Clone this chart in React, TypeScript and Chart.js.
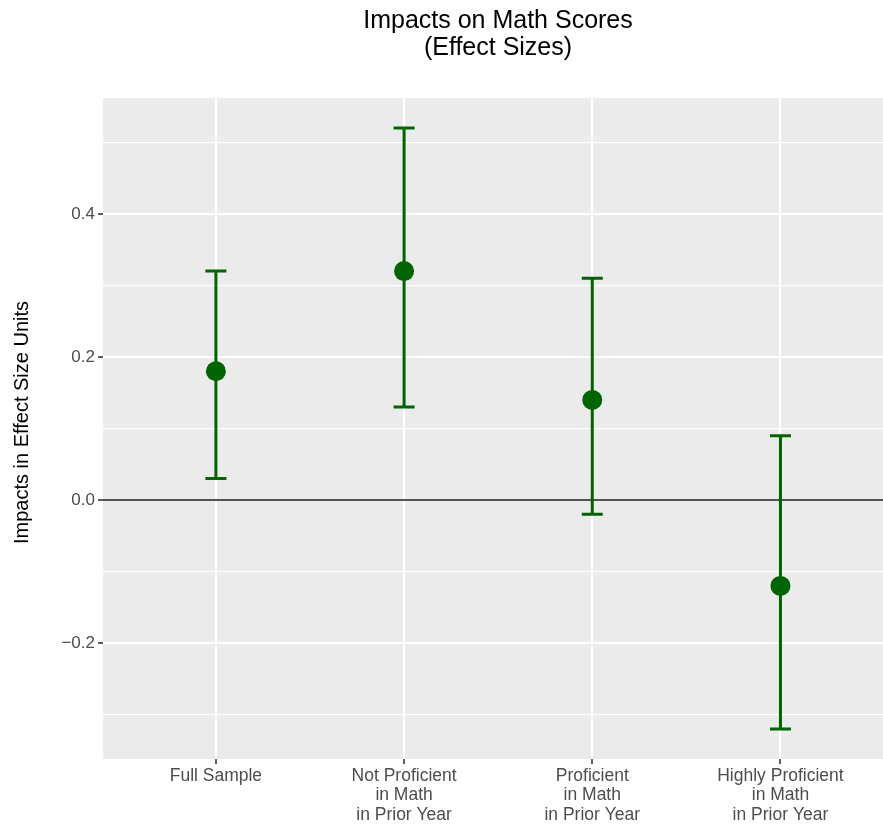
import React, { useEffect, useRef } from 'react';
import { Chart, registerables } from 'chart.js';

Chart.register(...registerables);

// ---- data ----
const categories: string[][] = [
  ['Full Sample'],
  ['Not Proficient', 'in Math', 'in Prior Year'],
  ['Proficient', 'in Math', 'in Prior Year'],
  ['Highly Proficient', 'in Math', 'in Prior Year'],
];
const categoryPositions = [1, 2, 3, 4];
const estimates = [0.18, 0.32, 0.14, -0.12];
const lowerBounds = [0.03, 0.13, -0.02, -0.32];
const upperBounds = [0.32, 0.52, 0.31, 0.09];
const yMajorTicks = [-0.2, 0.0, 0.2, 0.4];
const yMinorTicks = [-0.3, -0.1, 0.1, 0.3, 0.5];
const titleLines = ['Impacts on Math Scores', '(Effect Sizes)'];
const yAxisTitle = 'Impacts in Effect Size Units';

const FONT = "'Liberation Sans', Arial, sans-serif";
const GREEN = '#006400';

const isMajor = (v: number) => yMajorTicks.some((m) => Math.abs(m - v) < 1e-9);

export default function App() {
  const canvasRef = useRef<HTMLCanvasElement | null>(null);

  useEffect(() => {
    document.body.style.margin = '0';
    const canvas = canvasRef.current;
    if (!canvas) return;

    const decorPlugin = {
      id: 'decor',
      beforeDraw(chart: any) {
        const { ctx, chartArea } = chart;
        ctx.save();
        ctx.fillStyle = '#ffffff';
        ctx.fillRect(0, 0, chart.width, chart.height);
        ctx.fillStyle = '#EBEBEB';
        ctx.fillRect(chartArea.left, chartArea.top, chartArea.right - chartArea.left, chartArea.bottom - chartArea.top);
        ctx.restore();
      },
      beforeDatasetsDraw(chart: any) {
        const { ctx, chartArea, scales } = chart;
        const xs = scales.x;
        const ys = scales.y;
        ctx.save();
        // zero reference line
        const y0 = ys.getPixelForValue(0);
        ctx.strokeStyle = '#1a1a1a';
        ctx.lineWidth = 1.5;
        ctx.beginPath();
        ctx.moveTo(chartArea.left, y0);
        ctx.lineTo(chartArea.right, y0);
        ctx.stroke();
        // error bars
        ctx.strokeStyle = GREEN;
        ctx.lineWidth = 3;
        ctx.lineCap = 'butt';
        const half = 10.5;
        categoryPositions.forEach((pos, i) => {
          const x = xs.getPixelForValue(pos);
          const yl = ys.getPixelForValue(lowerBounds[i]);
          const yu = ys.getPixelForValue(upperBounds[i]);
          ctx.beginPath();
          ctx.moveTo(x, yl);
          ctx.lineTo(x, yu);
          ctx.moveTo(x - half, yl);
          ctx.lineTo(x + half, yl);
          ctx.moveTo(x - half, yu);
          ctx.lineTo(x + half, yu);
          ctx.stroke();
        });
        ctx.restore();
      },
      afterDraw(chart: any) {
        const { ctx, chartArea } = chart;
        ctx.save();
        ctx.fillStyle = '#000000';
        ctx.textAlign = 'center';
        ctx.textBaseline = 'alphabetic';
        ctx.font = `25px ${FONT}`;
        const cx = 498;
        ctx.fillText(titleLines[0], cx, 28);
        ctx.fillText(titleLines[1], cx, 55);
        // y-axis title
        ctx.font = `20px ${FONT}`;
        const cy = (chartArea.top + chartArea.bottom) / 2 - 6;
        ctx.translate(28, cy);
        ctx.rotate(-Math.PI / 2);
        ctx.fillText(yAxisTitle, 0, 0);
        ctx.restore();
      },
    };

    const chart = new Chart(canvas, {
      type: 'scatter',
      data: {
        datasets: [
          {
            data: categoryPositions.map((x, i) => ({ x, y: estimates[i] })),
            backgroundColor: GREEN,
            borderColor: GREEN,
            borderWidth: 0,
            pointRadius: 10,
            pointHoverRadius: 10,
          },
        ],
      },
      options: {
        responsive: false,
        animation: false,
        devicePixelRatio: 1,
        layout: { padding: { top: 98, left: 0, right: 0, bottom: 0 }, autoPadding: false },
        plugins: {
          legend: { display: false },
          title: { display: false },
          tooltip: { enabled: false },
        },
        scales: {
          x: {
            type: 'linear',
            min: 0.4,
            max: 4.545,
            border: { display: false },
            afterBuildTicks: (scale: any) => {
              scale.ticks = categoryPositions.map((v) => ({ value: v }));
            },
            afterFit: (scale: any) => {
              scale.height = 68;
            },
            grid: {
              color: '#ffffff',
              lineWidth: 2,
              drawTicks: true,
              tickLength: 5,
              tickColor: '#333333',
              tickWidth: 1.6,
            },
            ticks: {
              autoSkip: false,
              maxRotation: 0,
              padding: 3,
              color: '#4D4D4D',
              font: { family: FONT, size: 17.5, lineHeight: 1.09 },
              callback: (value: any) => {
                const idx = categoryPositions.indexOf(Number(value));
                return idx >= 0 ? categories[idx] : '';
              },
            },
          },
          y: {
            type: 'linear',
            min: -0.362,
            max: 0.562,
            border: { display: false },
            afterBuildTicks: (scale: any) => {
              scale.ticks = [...yMajorTicks, ...yMinorTicks]
                .sort((a, b) => a - b)
                .map((v) => ({ value: v }));
            },
            afterFit: (scale: any) => {
              scale.width = 103;
            },
            grid: {
              color: '#ffffff',
              lineWidth: (ctx: any) => (isMajor(ctx.tick?.value) ? 2 : 1.2),
              drawTicks: true,
              tickLength: 5,
              tickColor: (ctx: any) => (isMajor(ctx.tick?.value) ? '#333333' : 'rgba(0,0,0,0)'),
              tickWidth: 1.6,
            },
            ticks: {
              autoSkip: false,
              padding: 3,
              color: '#4D4D4D',
              font: { family: FONT, size: 17 },
              callback: (value: any) => {
                const v = Number(value);
                if (!isMajor(v)) return '';
                return v.toFixed(1).replace('-', '\u2212');
              },
            },
          },
        },
      },
      plugins: [decorPlugin],
    } as any);

    return () => {
      chart.destroy();
    };
  }, []);

  return (
    <div style={{ width: 883, height: 827, position: 'relative' }}>
      <canvas ref={canvasRef} width={883} height={827} style={{ display: 'block', width: 883, height: 827 }} />
    </div>
  );
}
